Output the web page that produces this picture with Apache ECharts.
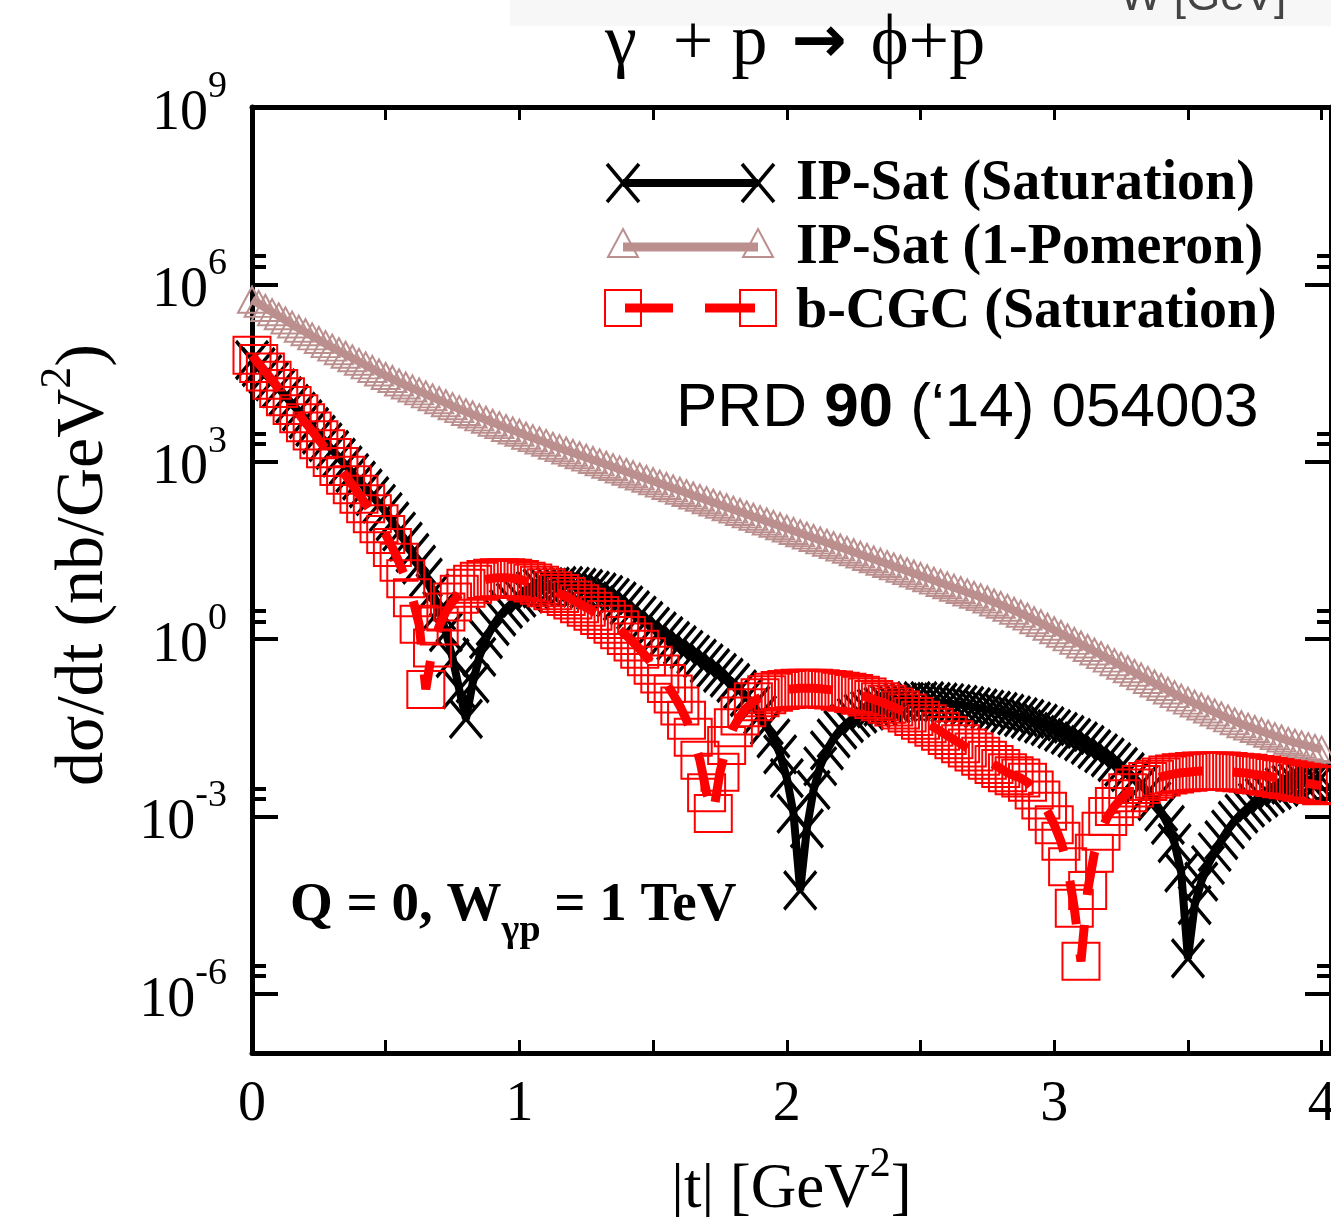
<!DOCTYPE html>
<html><head><meta charset="utf-8">
<script src="https://cdn.jsdelivr.net/npm/echarts@6/dist/echarts.min.js"></script>
<style>html,body{margin:0;padding:0;background:#fff}#c{width:1331px;height:1217px}</style>
</head><body><div id="c"></div>
<script>
// |t| sampling points (GeV^2)
const tValues = [
0,0.025,0.05,0.075,0.1,0.125,0.15,0.175,0.2,0.225,0.25,0.275,0.3,0.325,0.35,0.375,0.4,0.425,0.45,0.475,
0.5,0.525,0.55,0.575,0.6,0.625,0.65,0.675,0.7,0.725,0.75,0.775,0.8,0.825,0.85,0.875,0.9,0.925,0.95,0.975,
1,1.025,1.05,1.075,1.1,1.125,1.15,1.175,1.2,1.225,1.25,1.275,1.3,1.325,1.35,1.375,1.4,1.425,1.45,1.475,
1.5,1.525,1.55,1.575,1.6,1.625,1.65,1.675,1.7,1.725,1.75,1.775,1.8,1.825,1.85,1.875,1.9,1.925,1.95,1.975,
2,2.025,2.05,2.075,2.1,2.125,2.15,2.175,2.2,2.225,2.25,2.275,2.3,2.325,2.35,2.375,2.4,2.425,2.45,2.475,
2.5,2.525,2.55,2.575,2.6,2.625,2.65,2.675,2.7,2.725,2.75,2.775,2.8,2.825,2.85,2.875,2.9,2.925,2.95,2.975,
3,3.025,3.05,3.075,3.1,3.125,3.15,3.175,3.2,3.225,3.25,3.275,3.3,3.325,3.35,3.375,3.4,3.425,3.45,3.475,
3.5,3.525,3.55,3.575,3.6,3.625,3.65,3.675,3.7,3.725,3.75,3.775,3.8,3.825,3.85,3.875,3.9,3.925,3.95,3.975,
4];
// log10 of dσ/dt (nb/GeV^2)
const ipSatSaturationLog10 = [
4.72,4.60,4.48,4.36,4.24,4.11,3.98,3.85,3.72,3.59,3.46,3.33,3.20,3.07,2.94,2.81,2.68,2.55,2.42,2.29,
2.15,1.99,1.82,1.65,1.46,1.26,1.04,0.78,0.48,0.12,-0.32,-0.85,-1.35,-0.75,-0.30,0.00,0.22,0.38,0.51,0.62,
0.70,0.77,0.82,0.86,0.88,0.89,0.90,0.90,0.89,0.87,0.85,0.82,0.79,0.75,0.70,0.64,0.57,0.49,0.40,0.31,
0.21,0.13,0.05,-0.03,-0.10,-0.18,-0.26,-0.33,-0.41,-0.49,-0.57,-0.65,-0.74,-0.85,-0.98,-1.12,-1.28,-1.46,-1.68,-1.95,
-2.35,-2.95,-4.25,-3.20,-2.55,-2.15,-1.88,-1.68,-1.53,-1.42,-1.33,-1.26,-1.21,-1.17,-1.14,-1.11,-1.09,-1.07,-1.06,-1.05,
-1.05,-1.05,-1.06,-1.07,-1.08,-1.10,-1.11,-1.13,-1.15,-1.17,-1.19,-1.21,-1.23,-1.26,-1.29,-1.32,-1.35,-1.39,-1.43,-1.47,
-1.52,-1.57,-1.62,-1.67,-1.73,-1.79,-1.86,-1.93,-2.00,-2.08,-2.16,-2.25,-2.35,-2.46,-2.59,-2.74,-2.92,-3.14,-3.45,-3.95,
-5.40,-4.50,-4.10,-3.82,-3.60,-3.40,-3.22,-3.07,-2.95,-2.85,-2.76,-2.68,-2.61,-2.55,-2.50,-2.46,-2.43,-2.40,-2.38,-2.36,
-2.34];
const ipSatPomeronLog10 = [
5.74,5.67,5.60,5.53,5.46,5.39,5.32,5.25,5.19,5.12,5.06,4.99,4.93,4.87,4.81,4.75,4.69,4.63,4.57,4.51,
4.45,4.40,4.34,4.29,4.24,4.19,4.14,4.09,4.04,3.99,3.94,3.89,3.84,3.80,3.75,3.71,3.66,3.62,3.57,3.53,
3.49,3.44,3.40,3.36,3.32,3.27,3.23,3.19,3.15,3.11,3.07,3.03,2.99,2.95,2.91,2.87,2.83,2.79,2.75,2.71,
2.67,2.63,2.59,2.55,2.51,2.47,2.43,2.39,2.35,2.31,2.27,2.23,2.19,2.15,2.11,2.07,2.03,1.99,1.95,1.91,
1.87,1.83,1.79,1.75,1.71,1.67,1.63,1.59,1.55,1.51,1.47,1.43,1.39,1.35,1.31,1.27,1.23,1.19,1.15,1.11,
1.07,1.03,0.99,0.95,0.91,0.87,0.83,0.79,0.75,0.71,0.67,0.62,0.58,0.53,0.48,0.43,0.38,0.32,0.27,0.21,
0.15,0.09,0.03,-0.03,-0.09,-0.15,-0.21,-0.27,-0.33,-0.39,-0.45,-0.51,-0.57,-0.63,-0.69,-0.75,-0.81,-0.87,-0.93,-0.99,
-1.04,-1.09,-1.14,-1.19,-1.24,-1.29,-1.34,-1.39,-1.44,-1.48,-1.52,-1.56,-1.60,-1.64,-1.68,-1.72,-1.75,-1.78,-1.81,-1.84,
-1.87];
const bCgcSaturationLog10 = [
4.80,4.66,4.52,4.38,4.24,4.10,3.95,3.81,3.66,3.52,3.37,3.22,3.07,2.92,2.77,2.61,2.45,2.29,2.12,1.95,
1.77,1.55,1.30,1.02,0.70,0.25,-0.85,-0.15,0.22,0.46,0.63,0.76,0.86,0.93,0.98,1.01,1.03,1.04,1.04,1.03,
1.01,0.98,0.95,0.91,0.87,0.82,0.77,0.72,0.66,0.60,0.54,0.47,0.40,0.33,0.25,0.16,0.06,-0.05,-0.17,-0.30,
-0.44,-0.59,-0.75,-0.93,-1.13,-1.37,-1.66,-2.05,-2.60,-2.95,-2.25,-1.80,-1.50,-1.30,-1.16,-1.06,-0.99,-0.94,-0.90,-0.87,
-0.85,-0.84,-0.83,-0.83,-0.83,-0.84,-0.85,-0.86,-0.88,-0.90,-0.92,-0.95,-0.98,-1.02,-1.06,-1.10,-1.15,-1.20,-1.25,-1.31,
-1.37,-1.43,-1.49,-1.56,-1.63,-1.70,-1.77,-1.84,-1.91,-1.98,-2.05,-2.12,-2.19,-2.26,-2.31,-2.35,-2.42,-2.55,-2.72,-2.91,
-3.14,-3.42,-3.85,-4.55,-5.45,-4.25,-3.62,-3.25,-3.00,-2.83,-2.70,-2.60,-2.52,-2.46,-2.41,-2.37,-2.33,-2.30,-2.28,-2.26,
-2.25,-2.24,-2.23,-2.23,-2.23,-2.23,-2.24,-2.25,-2.26,-2.27,-2.29,-2.30,-2.32,-2.34,-2.36,-2.38,-2.40,-2.42,-2.44,-2.46,
-2.48];
const seriesNames = ['IP-Sat (Saturation)', 'IP-Sat (1-Pomeron)', 'b-CGC (Saturation)'];
const yMajorTicks = [1e-6, 1e-3, 1, 1e3, 1e6, 1e9];
const yMinorTicks = [2e-6, 3e-6, 2e-3, 3e-3, 2, 3, 2e3, 3e3, 2e6, 3e6];
const xMajorLabels = [0, 1, 2, 3, 4];
const xTicks = [0, 0.5, 1, 1.5, 2, 2.5, 3, 3.5, 4];

const toPairs = arr => tValues.map((t, i) => [t, Math.pow(10, arr[i])]);
const SERIF = 'Liberation Serif';
const SANS = 'Liberation Sans';
const BROWN = '#bc8f8f';
const RED = '#ff0000';
const CROSS = 'path://M0,0L10,10M10,0L0,10';

const chart = echarts.init(document.getElementById('c'), null, {renderer: 'canvas'});

const yLabelRich = {
  b: {fontFamily: SERIF, fontSize: 56, color: '#000', padding: [14, 0, 0, 0]},
  s: {fontFamily: SERIF, fontSize: 38, color: '#000', padding: [0, 0, 40, 0]}
};
function yFmt(v) {
  const e = Math.round(Math.log10(v));
  return '{b|10}{s|' + e + '}';
}

const majorY = (pos, showLabel) => ({
  type: 'log', logBase: 10, min: 1e-7, max: 1e9, position: pos,
  axisLine: {show: true, lineStyle: {color: '#000', width: 5}},
  axisTick: {show: true, inside: true, length: 26, lineStyle: {color: '#000', width: 4}, customValues: yMajorTicks},
  axisLabel: showLabel ? {show: true, customValues: yMajorTicks, formatter: yFmt, rich: yLabelRich, margin: 25} : {show: false},
  splitLine: {show: false}
});
const minorY = pos => ({
  type: 'log', logBase: 10, min: 1e-7, max: 1e9, position: pos,
  axisLine: {show: false},
  axisTick: {show: true, inside: true, length: 14, lineStyle: {color: '#000', width: 4}, customValues: yMinorTicks},
  axisLabel: {show: false},
  splitLine: {show: false}
});

const yAxis0 = majorY('left', true);
yAxis0.name = '{p|dσ/dt (nb/GeV}{s|2}{a|)}';
yAxis0.nameLocation = 'middle';
yAxis0.nameRotate = 90;
yAxis0.nameGap = 134;
yAxis0.nameTextStyle = {
  rich: {
    p: {fontFamily: SERIF, fontSize: 68, color: '#000', padding: [26, 0, 0, 30]},
    a: {fontFamily: SERIF, fontSize: 68, color: '#000', padding: [26, 0, 0, 0]},
    s: {fontFamily: SERIF, fontSize: 44, color: '#000', padding: [0, 0, 26, 0]}
  }
};

// legend samples (decoration next to the legend texts)
function legendSample(y, kind) {
  const xs = [623, 758];
  const els = [];
  if (kind === 0) {
    els.push({type: 'line', shape: {x1: xs[0], y1: y, x2: xs[1], y2: y}, style: {stroke: '#000', lineWidth: 8}});
    xs.forEach(x => {
      els.push({type: 'line', shape: {x1: x - 16, y1: y - 19, x2: x + 16, y2: y + 19}, style: {stroke: '#000', lineWidth: 3.5}});
      els.push({type: 'line', shape: {x1: x + 16, y1: y - 19, x2: x - 16, y2: y + 19}, style: {stroke: '#000', lineWidth: 3.5}});
    });
  } else if (kind === 1) {
    els.push({type: 'line', shape: {x1: xs[0], y1: y, x2: xs[1], y2: y}, style: {stroke: BROWN, lineWidth: 9}});
    xs.forEach(x => {
      els.push({type: 'polygon', shape: {points: [[x, y - 18], [x + 15, y + 10], [x - 15, y + 10]]}, style: {fill: 'none', stroke: BROWN, lineWidth: 2}});
    });
  } else {
    els.push({type: 'line', shape: {x1: 625, y1: y, x2: 673, y2: y}, style: {stroke: RED, lineWidth: 9}});
    els.push({type: 'line', shape: {x1: 705, y1: y, x2: 755, y2: y}, style: {stroke: RED, lineWidth: 9}});
    xs.forEach(x => {
      els.push({type: 'rect', shape: {x: x - 18, y: y - 18, width: 36, height: 36}, style: {fill: 'none', stroke: RED, lineWidth: 2}});
    });
  }
  return els;
}

const option = {
  animation: false,
  backgroundColor: '#fff',
  title: {
    text: '{a|γ  + p }{r|→}{a| ϕ+p}', left: 600, top: 4,
    textStyle: {fontWeight: 'normal', rich: {
      a: {fontFamily: SERIF, fontSize: 72, fontWeight: 'normal', color: '#000'},
      r: {fontFamily: 'DejaVu Sans', fontWeight: 'bold', fontSize: 66, color: '#000', padding: [0, 6, 0, 6]}
    }}
  },
  grid: {left: 252, top: 107, right: 0, bottom: 164, show: false, outerBoundsMode: 'none', containLabel: false},
  legend: {
    data: seriesNames, orient: 'vertical', left: 605, top: 152,
    itemWidth: 170, itemHeight: 40, itemGap: 8,
    itemStyle: {opacity: 0}, lineStyle: {opacity: 0},
    textStyle: {fontFamily: SERIF, fontWeight: 'bold', fontSize: 56, color: '#000', padding: [0, 0, 0, 10]}
  },
  xAxis: [{
    type: 'value', min: 0, max: 4.035, position: 'bottom',
    axisLine: {show: true, onZero: false, lineStyle: {color: '#000', width: 5}},
    axisTick: {show: true, inside: true, length: 13, lineStyle: {color: '#000', width: 3}, customValues: xTicks},
    axisLabel: {customValues: xMajorLabels, fontFamily: SERIF, fontSize: 56, color: '#000', margin: 24},
    splitLine: {show: false},
    name: '{a||t| [GeV}{s|2}{a|]}', nameLocation: 'middle', nameGap: 80,
    nameTextStyle: {rich: {
      a: {fontFamily: SERIF, fontSize: 63, color: '#000', padding: [26, 0, 0, 0]},
      s: {fontFamily: SERIF, fontSize: 42, color: '#000', padding: [0, 0, 26, 0]}
    }}
  }, {
    type: 'value', min: 0, max: 4.035, position: 'top',
    axisLine: {show: true, onZero: false, lineStyle: {color: '#000', width: 5}},
    axisTick: {show: true, inside: true, length: 13, lineStyle: {color: '#000', width: 3}, customValues: xTicks},
    axisLabel: {show: false}, splitLine: {show: false}
  }],
  yAxis: [yAxis0, minorY('left'), majorY('right', false), minorY('right')],
  series: [{
    name: seriesNames[0], type: 'line', data: toPairs(ipSatSaturationLog10),
    symbol: CROSS, symbolSize: [32, 38],
    itemStyle: {color: 'rgba(0,0,0,0)', borderColor: '#000', borderWidth: 3.5},
    lineStyle: {color: '#000', width: 8}, z: 2
  }, {
    name: seriesNames[1], type: 'line', data: toPairs(ipSatPomeronLog10),
    symbol: 'triangle', symbolSize: [28, 26],
    itemStyle: {color: 'rgba(0,0,0,0)', borderColor: BROWN, borderWidth: 2},
    lineStyle: {color: BROWN, width: 8}, z: 3
  }, {
    name: seriesNames[2], type: 'line', data: toPairs(bCgcSaturationLog10),
    symbol: 'rect', symbolSize: 37,
    itemStyle: {color: 'rgba(0,0,0,0)', borderColor: RED, borderWidth: 2},
    lineStyle: {color: RED, width: 9, type: [44, 30]}, z: 4
  }],
  graphic: [{
    type: 'rect', left: 510, top: 0, shape: {width: 821, height: 26}, style: {fill: '#f7f7f7'}, z: -1
  }, {
    type: 'text', left: 1120, top: -24, style: {text: 'W [GeV]', font: '44px ' + SANS, fill: '#444'}
  }, {
    type: 'text', left: 676, top: 378,
    style: {
      text: '{n|PRD }{b|90}{n| (‘14) 054003}',
      rich: {
        n: {fontFamily: SANS, fontSize: 62, fill: '#000'},
        b: {fontFamily: SANS, fontSize: 62, fontWeight: 'bold', fill: '#000'}
      }
    }
  }, {
    type: 'text', left: 290, top: 878,
    style: {
      text: '{a|Q = 0, W}{s|γp}{a| = 1 TeV}',
      rich: {
        a: {fontFamily: SERIF, fontSize: 55, fontWeight: 'bold', fill: '#000', padding: [0, 0, 20, 0]},
        s: {fontFamily: SERIF, fontSize: 38, fontWeight: 'bold', fill: '#000', padding: [32, 0, 0, 0]}
      }
    }
  }, {
    type: 'group', children: [].concat(legendSample(183, 0), legendSample(247, 1), legendSample(308, 2))
  }]
};
chart.setOption(option);
</script></body></html>
